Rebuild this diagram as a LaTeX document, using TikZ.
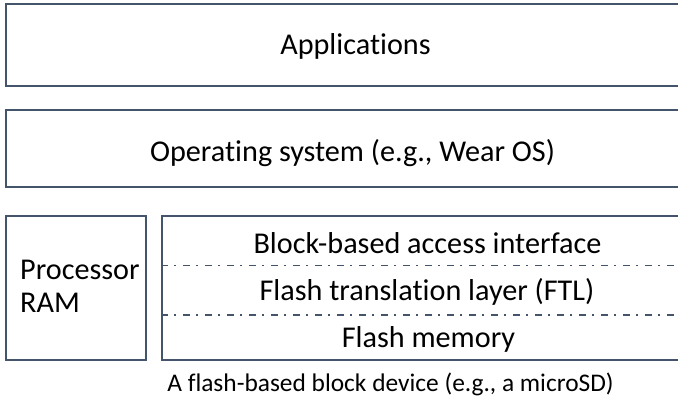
\documentclass[tikz,border=0pt]{standalone}
\usepackage{fontspec}
\setmainfont[Ligatures=NoCommon]{Carlito}
\definecolor{edge}{HTML}{44546A}
\begin{document}
\begin{tikzpicture}[x=1pt,y=-1pt,
  box/.style={draw=edge,line width=1.4pt,inner sep=0pt},
  lbl/.style={font=\fontsize{30.2}{34}\selectfont,text=black,inner sep=0pt,anchor=base},
  sep/.style={draw=edge,line width=1.5pt,dash pattern=on 7pt off 6pt on 2pt off 7pt}]
\useasboundingbox (0,0) rectangle (678,398);
\clip (0,0) rectangle (678,398);
\node[box,minimum width=698pt,minimum height=82pt] (app) at (355,45) {};
\node[box,minimum width=698pt,minimum height=77pt] (os) at (355,148.5) {};
\node[box,minimum width=140pt,minimum height=144pt] (proc) at (76,288) {};
\node[box,minimum width=530pt,minimum height=144pt] (dev) at (427,288) {};
\node[lbl] (tapp) at (355.5,55) {Applications};
\node[lbl] (tos) at (352.5,162) {Operating system (e.g., Wear OS)};
\node[lbl,anchor=base west] (tproc) at (20,280) {Processor};
\node[lbl,anchor=base west] (tram) at (20,313) {RAM};
\node[lbl] (tblk) at (427.5,254) {Block-based access interface};
\node[lbl] (tftl) at (427,301) {Flash translation layer (FTL)};
\node[lbl] (tfm) at (428.5,348) {Flash memory};
\node[font=\fontsize{25.4}{29}\selectfont,inner sep=0pt,anchor=base] (cap) at (390.5,391) {A flash-based block device (e.g., a microSD)};
\coordinate (l1a) at (dev.west |- 0,265.7);
\coordinate (l1b) at (dev.east |- 0,265.7);
\coordinate (l2a) at (dev.west |- 0,315);
\coordinate (l2b) at (dev.east |- 0,315);
\draw[sep] (l1a) -- (l1b);
\draw[sep] (l2a) -- (l2b);
\end{tikzpicture}
\end{document}
